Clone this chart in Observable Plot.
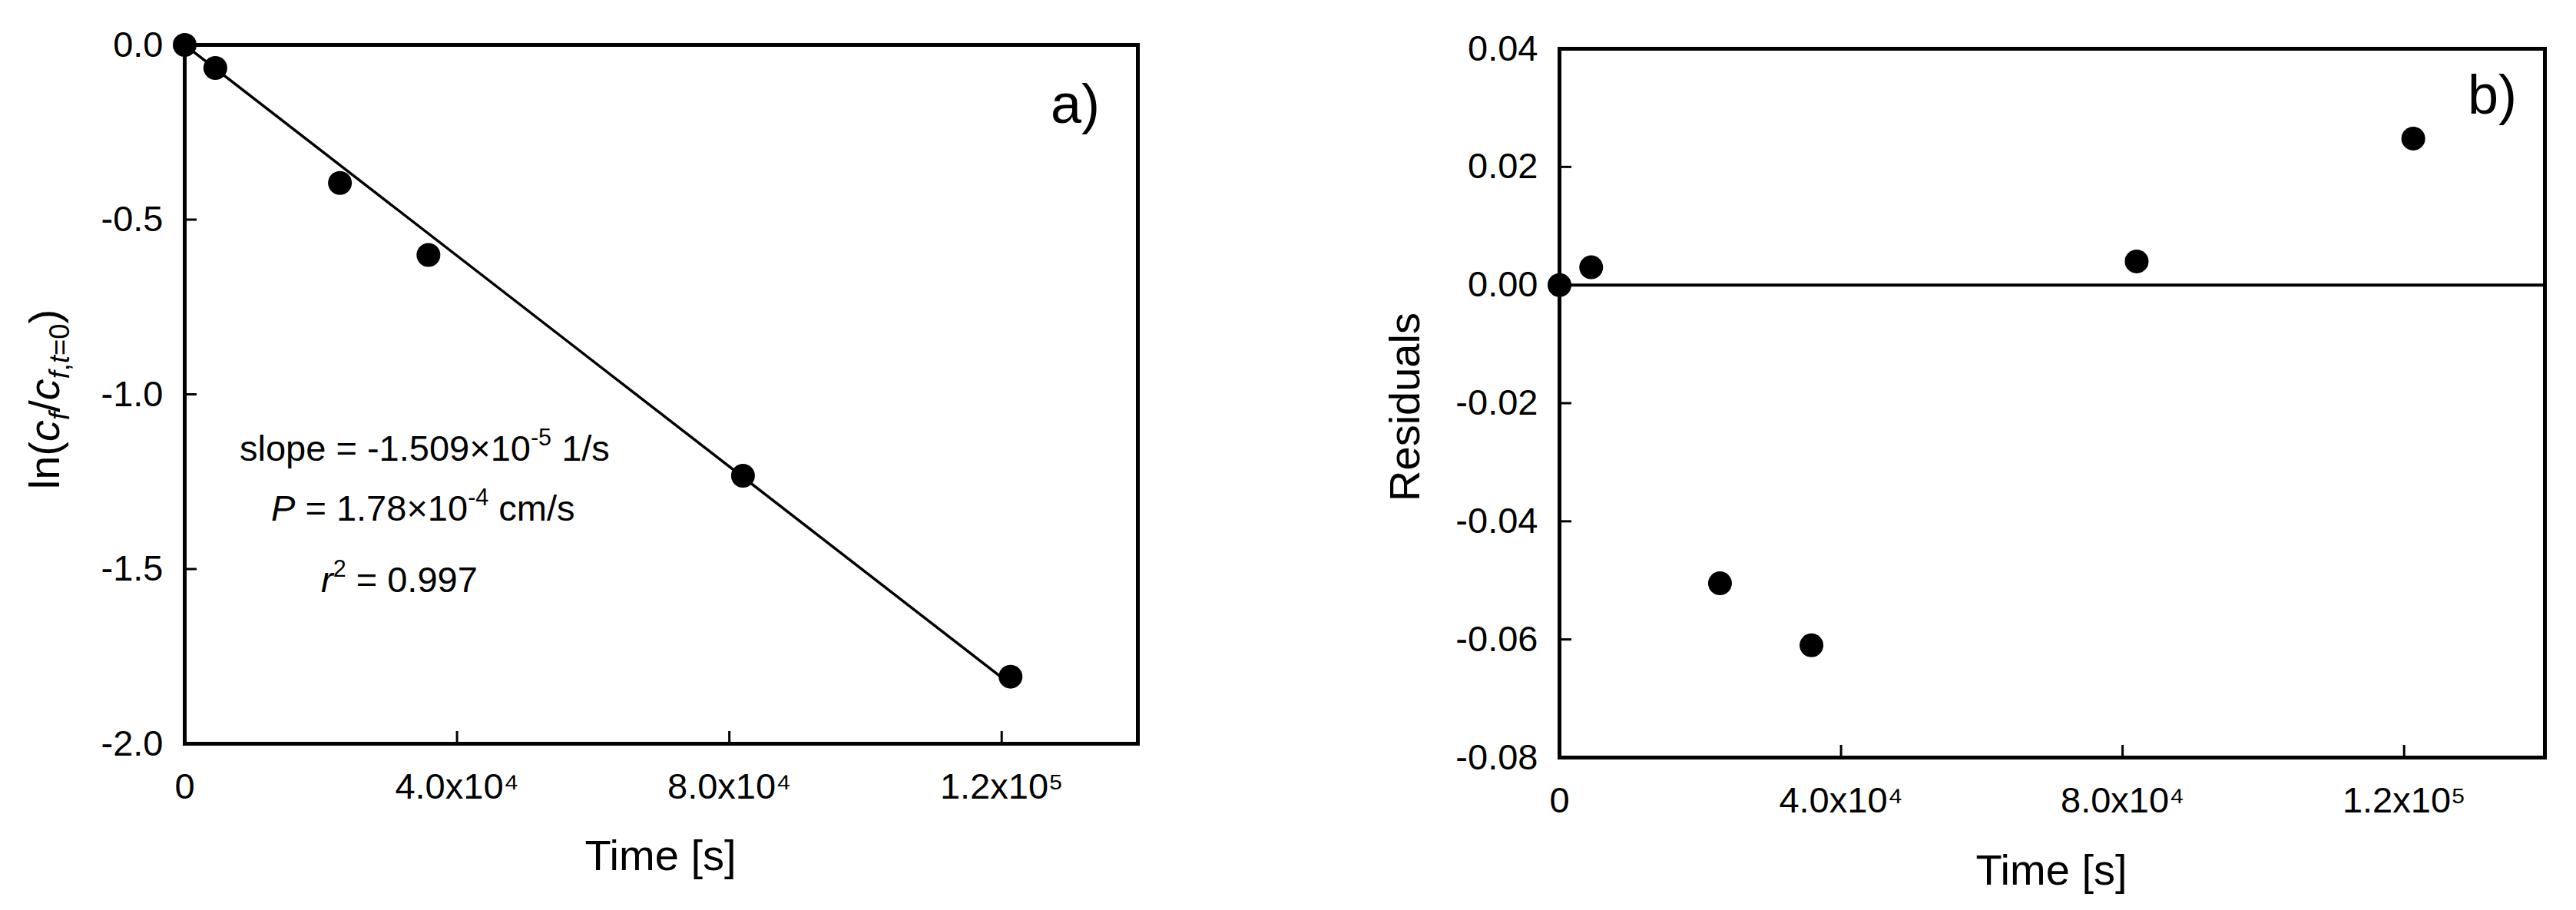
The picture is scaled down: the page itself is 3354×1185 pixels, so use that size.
<!DOCTYPE html>
<html><head><meta charset="utf-8">
<script src="https://cdn.jsdelivr.net/npm/d3@7"></script>
<script src="https://cdn.jsdelivr.net/npm/@observablehq/plot@0.6"></script>
<style>
html,body{margin:0;padding:0;background:#fff;}
#wrap{display:flex;width:3354px;height:1185px;overflow:hidden;}
#wrap svg{display:block;flex:none;}
</style></head><body><div id="wrap"></div>
<script>
// ---- data ----
const time = [0, 4500, 22800, 35800, 82000, 121300];
const lnRatio = [0, -0.066, -0.395, -0.601, -1.233, -1.808];
const residuals = [0, 0.003, -0.0505, -0.061, 0.004, 0.0248];
const fitTime = [0, 121300];
const fitLn = [0, -1.830];
const xTicks = [0, 40000, 80000, 120000];
const xTickLabels = ["0", "4.0x10⁴", "8.0x10⁴", "1.2x10⁵"];
const yTicksA = [0, -0.5, -1.0, -1.5, -2.0];
const yTicksB = [0.04, 0.02, 0, -0.02, -0.04, -0.06, -0.08];

const FONT = '"Liberation Sans", Arial, Helvetica, sans-serif';
const TICK = 16;
const xDomain = [0, 140000];

const ptsA = time.map((t, i) => ({t, v: lnRatio[i]}));
const ptsB = time.map((t, i) => ({t, v: residuals[i]}));
const fitA = fitTime.map((t, i) => ({t, v: fitLn[i]}));

function panel({width, ml, mr, mt, mb, yDomain, yTicks, yFmt, pts, extra}) {
  const H = 1185;
  const pw = width - ml - mr, ph = H - mt - mb;
  const kx = (xDomain[1] - xDomain[0]) / pw;
  const ky = (yDomain[1] - yDomain[0]) / ph;
  return Plot.plot({
    width, height: H,
    marginLeft: ml, marginRight: mr, marginTop: mt, marginBottom: mb,
    style: {fontFamily: FONT, fontSize: "47px", color: "#000", background: "white", overflow: "visible"},
    x: {domain: xDomain},
    y: {domain: yDomain},
    marks: [
      ...extra,
      Plot.axisX({ticks: xTicks, tickSize: 0, tickPadding: 38, label: null,
        tickFormat: d => xTickLabels[xTicks.indexOf(d)]}),
      Plot.axisY({ticks: yTicks, tickSize: 0, tickPadding: 28, label: null, tickFormat: yFmt}),
      Plot.ruleX(xTicks.slice(1), {x: d => d, y1: yDomain[0], y2: yDomain[0] + TICK * ky, stroke: "#000", strokeWidth: 3}),
      Plot.ruleY(yTicks, {y: d => d, x1: 0, x2: TICK * kx, stroke: "#000", strokeWidth: 3}),
      Plot.frame({stroke: "#000", strokeWidth: 5}),
      Plot.dot(pts, {x: "t", y: "v", r: 15.5, fill: "#000", stroke: "none"})
    ]
  });
}

const chartA = panel({
  width: 1700, ml: 240, mr: 219, mt: 58, mb: 217,
  yDomain: [-2, 0], yTicks: yTicksA, yFmt: d => d.toFixed(1), pts: ptsA,
  extra: [Plot.line(fitA, {x: "t", y: "v", stroke: "#000", strokeWidth: 3.5})]
});
const chartB = panel({
  width: 1654, ml: 330, mr: 41, mt: 63, mb: 199,
  yDomain: [-0.08, 0.04], yTicks: yTicksB, yFmt: d => d.toFixed(2), pts: ptsB,
  extra: [Plot.ruleY([0], {stroke: "#000", strokeWidth: 4})]
});

function addText(svg, {x, y, size, anchor = "start", rotate = 0, parts}) {
  const t = d3.select(svg).append("text")
    .attr("transform", `translate(${x},${y}) rotate(${rotate})`)
    .attr("text-anchor", anchor).attr("font-size", size)
    .attr("fill", "#000").attr("font-family", FONT);
  let shift = 0;
  for (const p of parts) {
    const ts = t.append("tspan").text(p.t);
    const target = p.sup ? -0.42 * size : p.sub ? 0.24 * size : 0;
    ts.attr("dy", target - shift);
    shift = target;
    if (p.sup || p.sub) ts.attr("font-size", size * 0.65);
    if (p.i) ts.attr("font-style", "italic");
  }
}

// Panel a texts
addText(chartA, {x: 77, y: 520, size: 56, anchor: "middle", rotate: -90, parts: [
  {t: "ln("}, {t: "c", i: true}, {t: "f", i: true, sub: true}, {t: "/"},
  {t: "c", i: true}, {t: "f", i: true, sub: true}, {t: ",", sub: true}, {t: "t", i: true, sub: true}, {t: "=0", sub: true}, {t: ")"}
]});
addText(chartA, {x: 860, y: 1133, size: 56, anchor: "middle", parts: [{t: "Time [s]"}]});
addText(chartA, {x: 1432, y: 160, size: 72, anchor: "end", parts: [{t: "a)"}]});
addText(chartA, {x: 312, y: 600, size: 47, parts: [
  {t: "slope = -1.509×10"}, {t: "-5", sup: true}, {t: " 1/s"}
]});
addText(chartA, {x: 353, y: 678, size: 47, parts: [
  {t: "P", i: true}, {t: " = 1.78×10"}, {t: "-4", sup: true}, {t: " cm/s"}
]});
addText(chartA, {x: 418, y: 771, size: 47, parts: [
  {t: "r", i: true}, {t: "2", sup: true}, {t: " = 0.997"}
]});

// Panel b texts
addText(chartB, {x: 148, y: 530, size: 56, anchor: "middle", rotate: -90, parts: [{t: "Residuals"}]});
addText(chartB, {x: 971, y: 1152, size: 56, anchor: "middle", parts: [{t: "Time [s]"}]});
addText(chartB, {x: 1577, y: 148, size: 72, anchor: "end", parts: [{t: "b)"}]});

document.getElementById("wrap").append(chartA, chartB);
</script></body></html>
